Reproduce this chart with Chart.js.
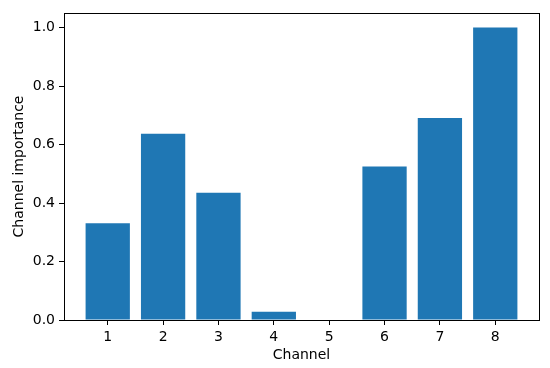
<!DOCTYPE html>
<html>
<head>
<meta charset="utf-8">
<script src="https://cdn.jsdelivr.net/npm/chart.js@4"></script>
<style>
  body { margin: 0; background: #fff; }
  #wrap { width: 550px; height: 368px; }
</style>
</head>
<body>
<div id="wrap"><canvas id="barchart"></canvas></div>
<script>
var channels = [1, 2, 3, 4, 5, 6, 7, 8];
var importance = [0.331, 0.637, 0.435, 0.028, 0, 0.525, 0.691, 1.0];
var yTicks = [0, 0.2, 0.4, 0.6, 0.8, 1.0];

Chart.defaults.font.family = "'DejaVu Sans', sans-serif";
Chart.defaults.color = "#000";

// draws the top and right spines like matplotlib
var frame = {
  id: "frame",
  afterDraw: function (chart) {
    var a = chart.chartArea, c = chart.ctx;
    c.save();
    c.strokeStyle = "#000";
    c.lineWidth = 1;
    c.strokeRect(a.left + 0.5, a.top + 0.5, a.right - a.left, a.bottom - a.top);
    c.restore();
  },
};

var ctx = document.getElementById("barchart").getContext("2d");
var barchart = new Chart(ctx, {
  type: "bar",
  data: {
    datasets: [
      {
        data: channels.map(function (c, i) { return { x: c, y: importance[i] }; }),
        backgroundColor: "#1f77b4",
        borderWidth: 0,
        barPercentage: 0.8,
        categoryPercentage: 1.0,
      },
    ],
  },
  options: {
    responsive: true,
    maintainAspectRatio: false,
    animation: false,
    layout: { padding: { top: 13, right: 11, left: 0, bottom: 0 } },
    plugins: { legend: { display: false }, tooltip: { enabled: false } },
    scales: {
      x: {
        type: "linear",
        offset: false,
        min: 0.21,
        max: 8.79,
        afterBuildTicks: function (s) { s.ticks = channels.map(function (v) { return { value: v }; }); },
        afterFit: function (s) { s.height = 48; },
        grid: { offset: false, drawOnChartArea: false, tickLength: 5, tickColor: "#000" },
        border: { color: "#000", width: 1 },
        ticks: { font: { size: 14 }, padding: 4, maxRotation: 0 },
        title: { display: true, text: "Channel", font: { size: 14 }, padding: { top: 1 } },
      },
      y: {
        min: 0,
        max: 1.05,
        afterBuildTicks: function (s) { s.ticks = yTicks.map(function (v) { return { value: v }; }); },
        afterFit: function (s) { s.width = 64; },
        grid: { drawOnChartArea: false, tickLength: 5, tickColor: "#000" },
        border: { color: "#000", width: 1 },
        ticks: { font: { size: 14 }, padding: 4, callback: function (v) { return v.toFixed(1); } },
        title: { display: true, text: "Channel importance", font: { size: 14 }, padding: { top: 11, bottom: 2 } },
      },
    },
  },
  plugins: [frame],
});
</script>
</body>
</html>
